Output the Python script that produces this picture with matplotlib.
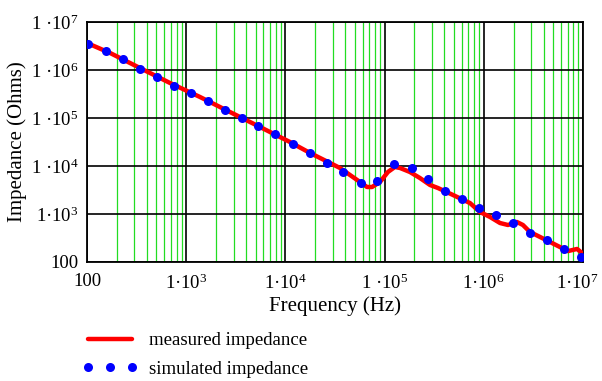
import matplotlib
matplotlib.use("Agg")
import matplotlib.pyplot as plt
from matplotlib.ticker import FixedLocator, NullFormatter
from matplotlib.transforms import ScaledTranslation

plt.rcParams['font.family'] = ['Liberation Serif', 'DejaVu Serif']
plt.rcParams['mathtext.fontset'] = 'custom'
plt.rcParams['mathtext.rm'] = 'Liberation Serif'
plt.rcParams['mathtext.it'] = 'Liberation Serif:italic'

# measured impedance (red curve)
meas_freq = [100, 171, 342, 687, 1377, 2767, 5546, 11120, 17700, 28200, 35500,
             44800, 56500, 66500, 74700, 89900, 108000, 127000, 143000, 180000,
             227000, 287000, 345000, 489000, 726000, 916000, 1.156e6, 1.457e6,
             1.753e6, 2.16e6, 2.48e6, 2.92e6, 3.69e6, 4.65e6, 5.86e6, 7.06e6,
             8.71e6, 9.78e6]
meas_z = [3.65e6, 2.26e6, 1.10e6, 5.36e5, 2.74e5, 1.33e5, 6.5e4, 3.16e4, 1.87e4,
          1.155e4, 9090, 6490, 4640, 3650, 3650, 4640, 7500, 9530, 9090, 7500,
          5620, 4020, 3480, 2490, 1690, 1100, 866, 649, 590, 681, 590, 422, 332,
          261, 205, 169, 187, 154]

# simulated impedance (blue dots)
sim_freq = [102, 155, 231, 342, 508, 753, 1117, 1660, 2460, 3650, 5300, 7850,
            11900, 17700, 26200, 38100, 57800, 83800, 124000, 189000, 274000,
            406000, 603000, 895000, 1.33e6, 1.97e6, 2.92e6, 4.34e6, 6.43e6, 9.55e6]
sim_z = [3.48e6, 2.49e6, 1.69e6, 1.05e6, 7.14e5, 4.64e5, 3.32e5, 2.26e5, 1.47e5,
         1.0e5, 6.8e4, 4.64e4, 2.87e4, 1.87e4, 1.16e4, 7.5e3, 4.42e3, 4.87e3,
         1.1e4, 9.08e3, 5.36e3, 3.01e3, 2.05e3, 1.33e3, 953, 650, 402, 287, 187, 127]

decades = [1e2, 1e3, 1e4, 1e5, 1e6, 1e7]
x_labels = ['100', '1·10$^{3}$', '1·10$^{4}$', '1 ·10$^{5}$', '1·10$^{6}$', '1·10$^{7}$']
y_labels = ['100', '1·10$^{3}$', '1 ·10$^{4}$', '1 ·10$^{5}$', '1 ·10$^{6}$', '1 ·10$^{7}$']

fig = plt.figure(figsize=(6.02, 3.81), dpi=100)
ax = fig.add_axes([87/602, 1-262/381, 496/602, 240/381])

ax.plot(meas_freq, meas_z, color='#ff0000', lw=3.2, solid_joinstyle='round',
        solid_capstyle='round', label='measured impedance', zorder=3)
ax.plot(sim_freq, sim_z, 'o', color='#0000ff', ms=6.5, mec='none',
        label='simulated impedance', zorder=4)

ax.set_xscale('log')
ax.set_yscale('log')
ax.set_xlim(100, 1e7)
ax.set_ylim(100, 1e7)

ax.xaxis.set_major_locator(FixedLocator(decades))
ax.yaxis.set_major_locator(FixedLocator(decades))
minor = [m * d for d in decades[:-1] for m in range(2, 10)]
ax.xaxis.set_minor_locator(FixedLocator(minor))
ax.xaxis.set_minor_formatter(NullFormatter())
ax.yaxis.set_minor_locator(FixedLocator([]))
ax.set_xticklabels(x_labels)
ax.set_yticklabels(y_labels)
ax.tick_params(which='both', length=0, labelsize=13.5)
ax.tick_params(axis='x', pad=8)
ax.tick_params(axis='y', pad=6)

# keep the last x label inside the figure
last = ax.get_xticklabels()[-1]
last.set_transform(last.get_transform() + ScaledTranslation(-6/100, 0, fig.dpi_scale_trans))

ax.grid(which='minor', axis='x', color='#22dd22', lw=0.9)
ax.grid(which='major', color='black', lw=1.2)
ax.set_axisbelow(True)
for s in ax.spines.values():
    s.set_linewidth(1.3)

ax.set_xlabel('Frequency (Hz)', fontsize=15, labelpad=3)
ax.set_ylabel('Impedance (Ohms)', fontsize=15, labelpad=3)

fig.legend(loc='upper left', bbox_to_anchor=(82/602, 1-332/381), frameon=False,
           fontsize=13.5, numpoints=3, handlelength=2.95, handletextpad=0.6,
           borderpad=0, borderaxespad=0, labelspacing=0.62)

fig.savefig('out.png', dpi=100)
